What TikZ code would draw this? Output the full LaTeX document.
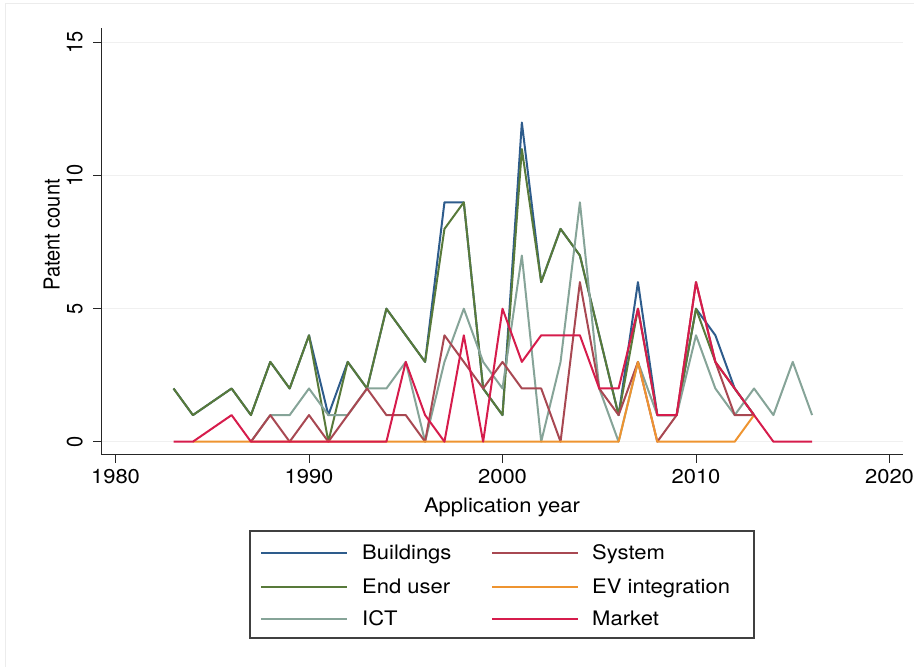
\documentclass[tikz,border=0pt]{standalone}
\usepackage{fontspec}
\setmainfont{TeX Gyre Heros}

\definecolor{bldcol}{RGB}{46,92,140}
\definecolor{usercol}{RGB}{88,122,58}
\definecolor{ictcol}{RGB}{134,164,152}
\definecolor{syscol}{RGB}{168,72,82}
\definecolor{evcol}{RGB}{238,148,48}
\definecolor{mktcol}{RGB}{214,28,76}

\tikzset{
  series/.style={line width=2pt, line join=round},
  gridline/.style={gray!12, line width=1pt},
  axisline/.style={black!85, line width=1pt},
  txt/.style={font=\fontsize{20}{24}\selectfont, inner sep=0pt, xscale=1.1},
  rottxt/.style={font=\fontsize{20}{24}\selectfont, inner sep=0pt, rotate=90, yscale=1.1},
  keyline/.style={line width=2pt}
}

\begin{document}
\begin{tikzpicture}[x=1pt,y=1pt]
    \useasboundingbox (0,0) rectangle (914,667);
    \draw[gray!15, line width=1pt] (5,0) -- (5,663) -- (914,663);

    \begin{scope}[shift={(115.5,225.3)},x=19.35pt,y=26.6pt]
        \draw[gridline] (-0.713,0) -- (40.7,0);
        \draw[gridline] (-0.713,5) -- (40.7,5);
        \draw[gridline] (-0.713,10) -- (40.7,10);
        \draw[gridline] (-0.713,15) -- (40.7,15);
        \draw[axisline] (-0.713,15.55) -- (-0.713,-0.5) -- (40.7,-0.5);

        \draw[axisline] (0,-0.5) -- (0,-0.8);
        \draw[axisline] (10,-0.5) -- (10,-0.8);
        \draw[axisline] (20,-0.5) -- (20,-0.8);
        \draw[axisline] (30,-0.5) -- (30,-0.8);
        \draw[axisline] (40,-0.5) -- (40,-0.8);
        \draw[axisline] (-0.713,0) -- (-1.18,0);
        \draw[axisline] (-0.713,5) -- (-1.18,5);
        \draw[axisline] (-0.713,10) -- (-1.18,10);
        \draw[axisline] (-0.713,15) -- (-1.18,15);

        \node[txt] (y1980) at (0,-1.32) {1980};
        \node[txt] (y1990) at (10,-1.32) {1990};
        \node[txt] (y2000) at (20,-1.32) {2000};
        \node[txt] (y2010) at (30,-1.32) {2010};
        \node[txt] (y2020) at (40,-1.32) {2020};
        \node[rottxt] (c0) at (-2.1,0) {0};
        \node[rottxt] (c5) at (-2.1,5) {5};
        \node[rottxt] (c10) at (-2.1,10) {10};
        \node[rottxt] (c15) at (-2.1,15) {15};

        \draw[series,bldcol] plot coordinates {(3,2) (4,1) (6,2) (7,1) (8,3) (9,2) (10,4) (11,1) (12,3) (13,2) (14,5) (15,4) (16,3) (17,9) (18,9) (19,2) (20,1) (21,12) (22,6) (23,8) (24,7) (25,4) (26,1) (27,6) (28,1) (29,1) (30,5) (31,4) (32,2) (33,1)};
        \draw[series,usercol] plot coordinates {(3,2) (4,1) (6,2) (7,1) (8,3) (9,2) (10,4) (11,0) (12,3) (13,2) (14,5) (15,4) (16,3) (17,8) (18,9) (19,2) (20,1) (21,11) (22,6) (23,8) (24,7) (25,4) (26,1) (27,5) (28,1) (29,1) (30,5) (31,3) (32,2) (33,1)};
        \draw[series,ictcol] plot coordinates {(7,0) (8,1) (9,1) (10,2) (11,1) (12,1) (13,2) (14,2) (15,3) (16,0) (17,3) (18,5) (19,3) (20,2) (21,7) (22,0) (23,3) (24,9) (25,2) (26,0) (27,3) (28,1) (29,1) (30,4) (31,2) (32,1) (33,2) (34,1) (35,3) (36,1)};
        \draw[series,syscol] plot coordinates {(7,0) (8,1) (9,0) (10,1) (11,0) (12,1) (13,2) (14,1) (15,1) (16,0) (17,4) (18,3) (19,2) (20,3) (21,2) (22,2) (23,0) (24,6) (25,2) (26,1) (27,3) (28,0) (29,1) (30,6) (31,3) (32,1) (33,1)};
        \draw[series,evcol] plot coordinates {(4,0) (26,0) (27,3) (28,0) (32,0) (33,1)};
        \draw[series,mktcol] plot coordinates {(3,0) (4,0) (6,1) (7,0) (14,0) (15,3) (16,1) (17,0) (18,4) (19,0) (20,5) (21,3) (22,4) (23,4) (24,4) (25,2) (26,2) (27,5) (28,1) (29,1) (30,6) (31,3) (32,2) (33,1) (34,0) (36,0)};
    \end{scope}

    \node[txt] (xtitle) at (502,160) {Application year};
    \node[rottxt] (ytitle) at (51.7,432) {Patent count};

    \draw[black!75, line width=1.2pt] (250,29) rectangle (754,136);
    \draw[keyline,bldcol] (261,114) -- (347,114);
    \draw[keyline,usercol] (261,80.3) -- (347,80.3);
    \draw[keyline,ictcol] (261,48) -- (347,48);
    \draw[keyline,syscol] (492,114) -- (578,114);
    \draw[keyline,evcol] (492,80.3) -- (578,80.3);
    \draw[keyline,mktcol] (492,48) -- (578,48);
    \node[txt, anchor=base west] (kbld) at (362,107) {Buildings};
    \node[txt, anchor=base west] (kuser) at (362,73.3) {End user};
    \node[txt, anchor=base west] (kict) at (362,41) {ICT};
    \node[txt, anchor=base west] (ksys) at (592,107) {System};
    \node[txt, anchor=base west] (kev) at (592,73.3) {EV integration};
    \node[txt, anchor=base west] (kmkt) at (592,41) {Market};
\end{tikzpicture}
\end{document}
